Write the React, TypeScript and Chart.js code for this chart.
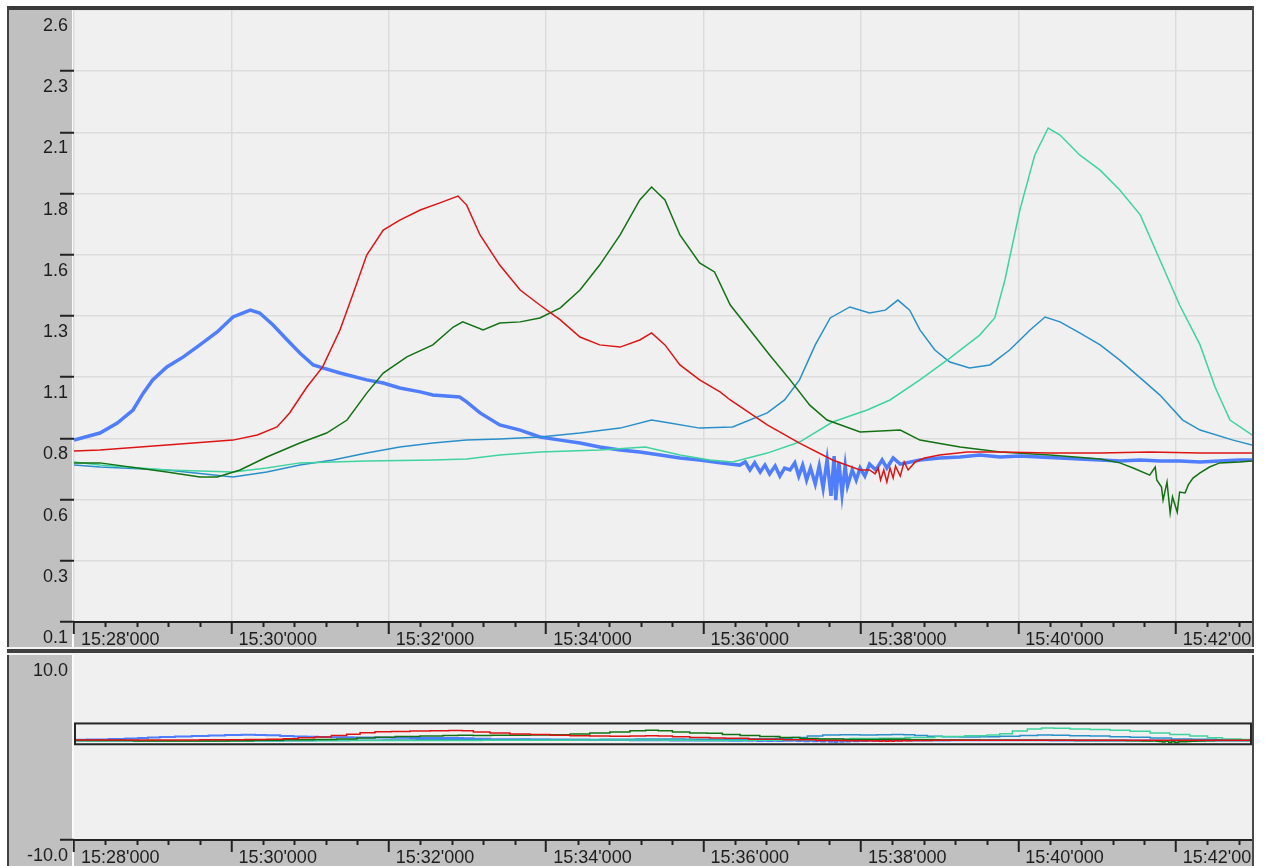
import React, { useEffect, useRef } from "react";
import { Chart, registerables } from "chart.js";

Chart.register(...registerables);

// ---- axis definitions ----
const X_MAX = 14.97; // minutes after 15:28:00
const X_MINOR_STEP = 0.4; // 24 s between small tick marks
const xMajorMinutes = [0, 2, 4, 6, 8, 10, 12, 14];
const xTickLabels = [
  "15:28'000",
  "15:30'000",
  "15:32'000",
  "15:34'000",
  "15:36'000",
  "15:38'000",
  "15:40'000",
  "15:42'000",
];

const yTickValues = [0.1, 0.35, 0.6, 0.85, 1.1, 1.35, 1.6, 1.85, 2.1, 2.35, 2.6];
const yTickLabels = ["0.1", "0.3", "0.6", "0.8", "1.1", "1.3", "1.6", "1.8", "2.1", "2.3", "2.6"];

const overviewTickValues = [-10, 10];
const overviewTickLabels = ["-10.0", "10.0"];
const overviewWindow = [0.35, 2.6];

// ---- series (time in minutes after 15:28:00, value) ----
const blueT = [0, 0.33, 0.55, 0.75, 0.88, 1.0, 1.18, 1.39, 1.6, 1.82, 2.02, 2.24, 2.36, 2.53, 2.71, 2.87, 3.04, 3.16, 3.38, 3.72, 3.93, 4.14, 4.4, 4.56, 4.9, 4.99, 5.16, 5.41, 5.67, 5.92, 6.18, 6.43, 6.68, 6.94, 7.19, 7.45, 7.7, 7.95, 8.21, 8.46, 8.53, 8.59, 8.65, 8.72, 8.78, 8.84, 8.91, 8.97, 9.03, 9.1, 9.16, 9.21, 9.26, 9.31, 9.36, 9.42, 9.47, 9.52, 9.57, 9.62, 9.66, 9.68, 9.72, 9.76, 9.8, 9.83, 9.89, 9.94, 9.99, 10.05, 10.11, 10.19, 10.27, 10.33, 10.41, 10.5, 10.75, 11.0, 11.26, 11.51, 11.77, 12.02, 12.27, 12.53, 12.78, 13.04, 13.29, 13.55, 13.8, 14.05, 14.31, 14.56, 14.81, 14.97];
const blueV = [0.843, 0.872, 0.913, 0.966, 1.035, 1.089, 1.142, 1.183, 1.232, 1.285, 1.346, 1.374, 1.362, 1.313, 1.252, 1.199, 1.15, 1.138, 1.117, 1.089, 1.076, 1.056, 1.04, 1.027, 1.019, 0.999, 0.954, 0.905, 0.884, 0.856, 0.843, 0.831, 0.815, 0.803, 0.794, 0.782, 0.77, 0.762, 0.75, 0.741, 0.754, 0.721, 0.75, 0.713, 0.741, 0.705, 0.737, 0.696, 0.729, 0.721, 0.75, 0.696, 0.741, 0.68, 0.729, 0.664, 0.737, 0.647, 0.762, 0.615, 0.778, 0.598, 0.754, 0.623, 0.737, 0.656, 0.721, 0.68, 0.729, 0.696, 0.745, 0.721, 0.762, 0.729, 0.77, 0.745, 0.762, 0.77, 0.774, 0.782, 0.774, 0.778, 0.774, 0.77, 0.766, 0.762, 0.758, 0.762, 0.758, 0.758, 0.754, 0.758, 0.762, 0.762];

const redT = [0, 0.33, 1.18, 2.02, 2.33, 2.58, 2.74, 2.96, 3.16, 3.38, 3.55, 3.72, 3.93, 4.14, 4.4, 4.65, 4.88, 4.99, 5.16, 5.41, 5.67, 5.92, 6.18, 6.43, 6.68, 6.94, 7.19, 7.34, 7.51, 7.7, 7.95, 8.21, 8.34, 8.81, 9.22, 9.64, 9.99, 10.11, 10.18, 10.22, 10.25, 10.29, 10.33, 10.37, 10.41, 10.44, 10.5, 10.55, 10.6, 10.69, 10.81, 11.0, 11.35, 11.77, 12.4, 13.04, 13.67, 14.31, 14.97];
const redV = [0.799, 0.803, 0.823, 0.843, 0.864, 0.897, 0.954, 1.06, 1.142, 1.293, 1.444, 1.599, 1.701, 1.742, 1.783, 1.812, 1.84, 1.803, 1.681, 1.558, 1.456, 1.395, 1.334, 1.264, 1.232, 1.223, 1.252, 1.281, 1.232, 1.15, 1.089, 1.04, 1.007, 0.905, 0.831, 0.762, 0.721, 0.721, 0.705, 0.729, 0.68, 0.721, 0.672, 0.729, 0.688, 0.737, 0.696, 0.754, 0.721, 0.754, 0.77, 0.782, 0.794, 0.794, 0.79, 0.79, 0.794, 0.79, 0.79];

const greenT = [0, 0.33, 1.18, 1.6, 1.82, 2.11, 2.45, 2.87, 3.21, 3.47, 3.72, 3.93, 4.23, 4.56, 4.82, 4.94, 5.2, 5.41, 5.67, 5.92, 6.18, 6.43, 6.68, 6.94, 7.19, 7.34, 7.51, 7.7, 7.95, 8.14, 8.34, 8.59, 8.84, 9.1, 9.35, 9.57, 9.99, 10.5, 10.75, 11.26, 11.77, 12.4, 13.04, 13.29, 13.46, 13.67, 13.74, 13.76, 13.82, 13.84, 13.89, 13.93, 13.96, 14.02, 14.05, 14.12, 14.16, 14.22, 14.31, 14.43, 14.56, 14.81, 14.97];
const greenV = [0.75, 0.75, 0.713, 0.692, 0.692, 0.721, 0.774, 0.831, 0.872, 0.925, 1.035, 1.117, 1.183, 1.232, 1.305, 1.326, 1.293, 1.321, 1.326, 1.342, 1.383, 1.456, 1.558, 1.681, 1.824, 1.877, 1.824, 1.681, 1.567, 1.53, 1.395, 1.293, 1.191, 1.089, 0.986, 0.925, 0.876, 0.884, 0.843, 0.815, 0.794, 0.782, 0.766, 0.75, 0.729, 0.7, 0.733, 0.68, 0.651, 0.598, 0.672, 0.545, 0.611, 0.549, 0.631, 0.627, 0.66, 0.688, 0.709, 0.733, 0.75, 0.754, 0.758];

const steelT = [0, 0.33, 1.18, 2.02, 2.45, 2.87, 3.29, 3.72, 4.14, 4.56, 4.99, 5.41, 5.92, 6.43, 6.94, 7.34, 7.57, 7.95, 8.37, 8.81, 9.03, 9.22, 9.42, 9.61, 9.86, 10.11, 10.31, 10.47, 10.62, 10.75, 10.94, 11.13, 11.38, 11.64, 11.89, 12.15, 12.34, 12.53, 12.78, 13.04, 13.29, 13.55, 13.8, 14.09, 14.31, 14.73, 14.97];
const steelV = [0.741, 0.733, 0.721, 0.692, 0.713, 0.741, 0.762, 0.79, 0.815, 0.831, 0.843, 0.848, 0.856, 0.872, 0.892, 0.925, 0.913, 0.892, 0.897, 0.954, 1.007, 1.089, 1.232, 1.342, 1.387, 1.362, 1.374, 1.415, 1.374, 1.293, 1.211, 1.162, 1.138, 1.15, 1.211, 1.293, 1.346, 1.326, 1.281, 1.232, 1.17, 1.097, 1.027, 0.925, 0.884, 0.843, 0.823];

const aquaT = [0, 0.33, 1.18, 2.02, 2.45, 2.87, 3.29, 3.72, 4.56, 4.99, 5.41, 5.92, 6.68, 7.26, 7.7, 8.08, 8.37, 8.81, 9.22, 9.64, 10.08, 10.37, 10.75, 11.13, 11.51, 11.7, 11.83, 12.02, 12.21, 12.38, 12.53, 12.78, 13.04, 13.29, 13.55, 13.8, 14.05, 14.31, 14.5, 14.69, 14.97];
const aquaV = [0.754, 0.741, 0.721, 0.713, 0.729, 0.75, 0.754, 0.758, 0.762, 0.766, 0.782, 0.794, 0.803, 0.815, 0.782, 0.762, 0.754, 0.79, 0.835, 0.917, 0.966, 1.007, 1.089, 1.178, 1.272, 1.342, 1.497, 1.783, 2.008, 2.118, 2.089, 2.008, 1.946, 1.865, 1.763, 1.579, 1.395, 1.232, 1.06, 0.925, 0.864];

type Series = { t: number[]; v: number[]; color: string; width: number; order: number };
const seriesList: Series[] = [
  { t: blueT, v: blueV, color: "#4f7dfb", width: 3.5, order: 4 },
  { t: steelT, v: steelV, color: "#2a8fc9", width: 1.5, order: 3 },
  { t: aquaT, v: aquaV, color: "#3fd3a0", width: 1.5, order: 2 },
  { t: greenT, v: greenV, color: "#137113", width: 1.5, order: 1 },
  { t: redT, v: redV, color: "#dd1414", width: 1.5, order: 0 },
];

// ---- styling ----
const FONT_FAMILY = "'Liberation Sans', Arial, sans-serif";
const FONT_SIZE = 18;
const TEXT_COLOR = "#1e1e1e";
const AXIS_COLOR = "#222222";
const GRID_COLOR = "#dcdcdc";
const PLOT_BG = "#f0f0f0";
const PANEL_BG = "#c0c0c0";
const CLEAR = "rgba(0,0,0,0)";

const minorTicks: number[] = [];
for (let k = 0; k * X_MINOR_STEP <= X_MAX; k++) {
  minorTicks.push(Math.round(k * X_MINOR_STEP * 100) / 100);
}
const isMajor = (v: number) => xMajorMinutes.some((m) => Math.abs(m - v) < 1e-6);

const zeroPadding = (s: any) => {
  s.paddingLeft = 0;
  s.paddingRight = 0;
  s.paddingTop = 0;
  s.paddingBottom = 0;
};

const panelChrome = {
  id: "panelChrome",
  beforeDraw(chart: any) {
    const { ctx, chartArea } = chart;
    ctx.save();
    ctx.fillStyle = PLOT_BG;
    ctx.fillRect(chartArea.left, chartArea.top, chartArea.right - chartArea.left, chartArea.bottom - chartArea.top);
    ctx.fillStyle = "#fbfbfb";
    ctx.fillRect(chartArea.left - 2, 0, 2, chart.height);
    ctx.restore();
  },
  afterDraw(chart: any) {
    const { ctx, chartArea } = chart;
    const xs = chart.scales.x;
    ctx.save();
    ctx.strokeStyle = AXIS_COLOR;
    ctx.lineWidth = 2;
    ctx.beginPath();
    for (const v of minorTicks) {
      if (isMajor(v)) continue;
      const px = Math.round(xs.getPixelForValue(v)) + 0.5;
      ctx.moveTo(px, chartArea.bottom);
      ctx.lineTo(px, chartArea.bottom + 5);
    }
    ctx.stroke();
    ctx.restore();
  },
};

const overviewFrame = {
  id: "overviewFrame",
  afterDatasetsDraw(chart: any) {
    const { ctx, chartArea } = chart;
    const ys = chart.scales.y;
    const top = ys.getPixelForValue(overviewWindow[1]);
    const bottom = ys.getPixelForValue(overviewWindow[0]);
    ctx.save();
    ctx.strokeStyle = "#262626";
    ctx.lineWidth = 2;
    ctx.strokeRect(chartArea.left + 1, top, chartArea.right - chartArea.left - 2, bottom - top);
    ctx.restore();
  },
};

function makeXScale(height: number, gridOnArea: boolean) {
  return {
    type: "linear" as const,
    min: 0,
    max: X_MAX,
    afterBuildTicks: (s: any) => {
      s.ticks = minorTicks.map((v) => ({ value: v }));
    },
    afterFit: (s: any) => {
      s.height = height;
      zeroPadding(s);
    },
    ticks: {
      autoSkip: false,
      maxRotation: 0,
      minRotation: 0,
      align: "start" as const,
      labelOffset: 7,
      padding: -3,
      color: TEXT_COLOR,
      font: { family: FONT_FAMILY, size: FONT_SIZE, lineHeight: 1 },
      callback: (value: any) => {
        const v = Number(value);
        if (!isMajor(v)) return "";
        return xTickLabels[xMajorMinutes.findIndex((m) => Math.abs(m - v) < 1e-6)];
      },
    },
    grid: {
      drawOnChartArea: gridOnArea,
      color: (c: any) => (c.tick && isMajor(c.tick.value) ? GRID_COLOR : CLEAR),
      tickColor: (c: any) => (c.tick && isMajor(c.tick.value) ? AXIS_COLOR : CLEAR),
      tickLength: 12,
      tickWidth: 2,
      lineWidth: 1.5,
    },
    border: { display: true, color: AXIS_COLOR, width: 2 },
  };
}

function makeYScale(min: number, max: number, values: number[], labels: string[], gridOnArea: boolean) {
  return {
    type: "linear" as const,
    min,
    max,
    afterBuildTicks: (s: any) => {
      s.ticks = values.map((v) => ({ value: v }));
    },
    afterFit: (s: any) => {
      s.width = 65;
      zeroPadding(s);
    },
    ticks: {
      autoSkip: false,
      padding: -8,
      labelOffset: 16,
      color: TEXT_COLOR,
      font: { family: FONT_FAMILY, size: FONT_SIZE, lineHeight: 1 },
      callback: (_v: any, i: number) => labels[i],
    },
    grid: {
      drawOnChartArea: gridOnArea,
      color: GRID_COLOR,
      lineWidth: 1.5,
      tickColor: (c: any) => (c.tick && c.tick.value >= max ? CLEAR : AXIS_COLOR),
      tickLength: 14,
      tickWidth: 2,
    },
    border: { display: false },
  };
}

function buildDatasets(stepped: boolean, thin: boolean) {
  return seriesList.map((s) => ({
    data: s.t.map((t, i) => ({ x: t, y: s.v[i] })),
    borderColor: s.color,
    backgroundColor: s.color,
    borderWidth: thin ? Math.min(s.width, 2) : s.width,
    pointRadius: 0,
    tension: 0,
    stepped: stepped ? ("middle" as const) : false,
    order: s.order,
  }));
}

function ChartCanvas(props: {
  width: number;
  height: number;
  left: number;
  top: number;
  config: () => any;
}) {
  const ref = useRef<HTMLCanvasElement | null>(null);
  useEffect(() => {
    if (!ref.current) return;
    const chart = new Chart(ref.current, props.config());
    return () => chart.destroy();
  }, []);
  return (
    <canvas
      ref={ref}
      width={props.width}
      height={props.height}
      style={{
        position: "absolute",
        left: props.left,
        top: props.top,
        width: props.width,
        height: props.height,
        background: PANEL_BG,
      }}
    />
  );
}

const CANVAS_W = 1243;
const TOP_H = 637;
const BOTTOM_H = 211;

const baseOptions = {
  responsive: false,
  animation: false as const,
  devicePixelRatio: 1,
  layout: { padding: 0 },
  plugins: { legend: { display: false }, tooltip: { enabled: false } },
  events: [] as any[],
};

const mainConfig = () => ({
  type: "line" as const,
  data: { datasets: buildDatasets(false, false) },
  options: {
    ...baseOptions,
    scales: {
      x: makeXScale(TOP_H - 612, true),
      y: makeYScale(0.1, 2.6, yTickValues, yTickLabels, true),
    },
  },
  plugins: [panelChrome],
});

const overviewConfig = () => ({
  type: "line" as const,
  data: { datasets: buildDatasets(true, true) },
  options: {
    ...baseOptions,
    scales: {
      x: makeXScale(BOTTOM_H - 185, false),
      y: makeYScale(-10, 10, overviewTickValues, overviewTickLabels, false),
    },
  },
  plugins: [panelChrome, overviewFrame],
});

const block = (left: number, top: number, width: number, height: number, bg: string) => (
  <div style={{ position: "absolute", left, top, width, height, background: bg }} />
);

export default function App() {
  return (
    <div
      style={{
        position: "fixed",
        left: 0,
        top: 0,
        width: 1266,
        height: 866,
        background: "#ffffff",
        overflow: "hidden",
      }}
    >
      <ChartCanvas width={CANVAS_W} height={TOP_H} left={9} top={10} config={mainConfig} />
      <ChartCanvas width={CANVAS_W} height={BOTTOM_H} left={9} top={655} config={overviewConfig} />
      {/* outer frame */}
      {block(7, 6, 1247, 4, "#3a3a3a")}
      {block(7, 6, 2, 860, "#404040")}
      {block(1252, 6, 2, 860, "#4a4a4a")}
      {/* separator between the two panels */}
      {block(7, 647, 1247, 2, "#f4f4f4")}
      {block(7, 649, 1247, 4, "#404040")}
      {block(7, 653, 1247, 2, "#f4f4f4")}
    </div>
  );
}
